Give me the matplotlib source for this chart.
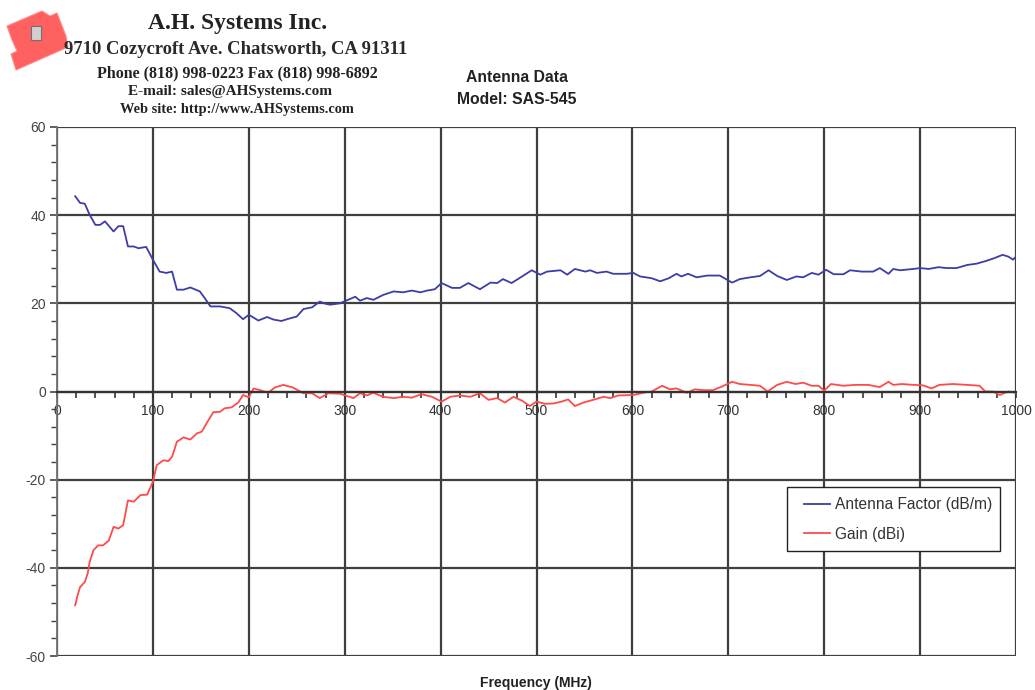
import numpy as np
import matplotlib
matplotlib.use('Agg')
from matplotlib import pyplot as plt
from matplotlib.patches import Polygon, Rectangle

# antenna factor (dB/m)
af_freq = [19, 24, 29, 34, 40, 45, 50, 59, 64, 69, 74, 80, 85, 93, 100, 107, 114, 120, 125, 132,
           139, 149, 154, 160, 165, 170, 180, 187, 194, 200, 210, 219, 226, 234, 243, 250, 257,
           266, 274, 280, 285, 295, 311, 316, 323, 330, 340, 351, 361, 370, 379, 386, 394, 401,
           412, 420, 429, 441, 452, 459, 465, 474, 485, 495, 504, 511, 525, 532, 540, 551, 556,
           563, 573, 580, 594, 601, 608, 620, 629, 638, 646, 651, 658, 667, 678, 691, 704, 712,
           723, 733, 742, 751, 761, 771, 778, 787, 794, 802, 810, 820, 827, 839, 851, 858, 867,
           872, 879, 893, 900, 909, 919, 928, 938, 949, 959, 970, 978, 986, 992, 997, 1000]
af_val = [44.3, 42.8, 42.6, 40.1, 37.8, 37.8, 38.6, 36.3, 37.5, 37.5, 32.9, 32.9, 32.5, 32.8,
          29.9, 27.2, 26.9, 27.2, 23.1, 23.1, 23.6, 22.7, 21.2, 19.3, 19.3, 19.3, 18.9, 17.8,
          16.4, 17.4, 16.1, 16.9, 16.3, 16.0, 16.6, 17.0, 18.7, 19.1, 20.4, 19.9, 19.7, 20.0,
          21.5, 20.6, 21.2, 20.8, 21.9, 22.7, 22.5, 22.9, 22.5, 22.9, 23.2, 24.6, 23.5, 23.5,
          24.6, 23.2, 24.7, 24.6, 25.5, 24.6, 26.1, 27.5, 26.5, 27.2, 27.5, 26.5, 27.8, 27.2,
          27.5, 26.9, 27.2, 26.7, 26.7, 26.9, 26.1, 25.7, 25.0, 25.7, 26.7, 26.1, 26.7, 25.9,
          26.3, 26.3, 24.7, 25.5, 25.9, 26.2, 27.5, 26.2, 25.3, 26.1, 25.9, 26.9, 26.5, 27.6,
          26.6, 26.6, 27.5, 27.2, 27.2, 28.0, 26.7, 27.8, 27.5, 27.8, 28.0, 27.8, 28.2, 28.0,
          28.0, 28.7, 29.0, 29.7, 30.3, 31.0, 30.6, 29.9, 30.6]

# gain (dBi)
g_freq = [19, 21, 24, 29, 32, 34, 38, 43, 48, 54, 59, 64, 69, 74, 80, 87, 94, 100, 104, 111,
          116, 120, 125, 132, 139, 146, 151, 156, 163, 170, 175, 182, 189, 194, 200, 205, 212,
          220, 227, 236, 246, 257, 266, 274, 283, 295, 309, 316, 323, 330, 340, 351, 361, 370,
          380, 391, 401, 410, 420, 431, 441, 450, 459, 467, 476, 485, 493, 500, 509, 518, 526,
          533, 540, 549, 559, 570, 577, 585, 601, 611, 620, 631, 639, 646, 657, 665, 674, 684,
          693, 704, 712, 723, 733, 741, 751, 761, 770, 778, 787, 794, 800, 807, 820, 832, 846,
          858, 867, 872, 881, 893, 903, 912, 920, 934, 949, 962, 968, 976, 983, 992, 1000]
g_val = [-48.5, -46.6, -44.4, -43.2, -41.3, -38.7, -36.0, -34.9, -34.9, -33.8, -30.7, -31.1,
         -30.3, -24.7, -25.0, -23.5, -23.4, -20.5, -16.7, -15.6, -15.8, -14.8, -11.4, -10.4,
         -10.9, -9.5, -9.1, -7.2, -4.7, -4.6, -3.8, -3.6, -2.5, -0.8, -1.3, 0.7, 0.3, -0.3,
         0.9, 1.5, 0.9, -0.4, -0.4, -1.5, -0.4, -0.5, -1.5, -0.4, -0.9, -0.3, -1.2, -1.5, -1.2,
         -1.4, -0.6, -1.2, -2.3, -1.2, -0.9, -1.2, -0.4, -1.9, -1.5, -2.5, -1.2, -2.1, -3.3,
         -2.3, -2.8, -2.7, -2.3, -1.8, -3.3, -2.5, -1.9, -1.2, -1.5, -0.9, -0.8, -0.3, 0.0,
         1.3, 0.5, 0.7, -0.3, 0.5, 0.3, 0.3, 1.1, 2.2, 1.7, 1.5, 1.3, 0.0, 1.5, 2.2, 1.7, 2.0,
         1.3, 1.3, 0.2, 1.7, 1.3, 1.5, 1.5, 1.0, 2.2, 1.5, 1.7, 1.5, 1.4, 0.7, 1.5, 1.7, 1.5,
         1.3, 0.0, 0.0, -0.8, 0.0, -0.3]

W, H = 1035, 690
plt.rcParams['font.family'] = ['Liberation Sans', 'DejaVu Sans']
plt.rcParams['axes.unicode_minus'] = False
fig = plt.figure(figsize=(W / 100, H / 100), dpi=100)

def fx(px):
    return px / W

def fy(py):
    return 1 - py / H

ax = fig.add_axes([fx(57), fy(656), fx(1016) - fx(57), fy(127) - fy(656)])
ax.plot(af_freq, af_val, color='#3d3da6', lw=1.3, label='Antenna Factor (dB/m)')
ax.plot(g_freq, g_val, color='#ff4a4a', lw=1.3, label='Gain (dBi)')

ax.set_xlim(0, 1000)
ax.set_ylim(-60, 60)
ax.set_xticks(np.arange(0, 1001, 100))
ax.set_xticks(np.arange(0, 1001, 20), minor=True)
ax.set_yticks(np.arange(-60, 61, 20))
ax.set_yticks(np.arange(-60, 61, 4), minor=True)

ax.set_axisbelow(True)
ax.grid(which='major', color='#3f3f3f', lw=1.6)
for t in ax.yaxis.get_major_ticks():
    if abs(t.get_loc()) == 60:
        t.gridline.set_color('#b0b0b0')
        t.gridline.set_linewidth(1.0)
for t in ax.xaxis.get_major_ticks():
    if t.get_loc() in (0, 1000):
        t.gridline.set_color('#a0a0a0')
        t.gridline.set_linewidth(1.2)

ax.spines['bottom'].set_position(('data', 0))
ax.spines['bottom'].set_color('#333333')
ax.spines['bottom'].set_linewidth(1.6)
ax.spines['left'].set_color('#707070')
ax.spines['left'].set_linewidth(1.3)
ax.spines['top'].set_visible(False)
ax.spines['right'].set_visible(False)

ax.tick_params(axis='x', which='both', direction='out', length=4, width=1.2,
               colors='#333333', labelsize=10, pad=5)
ax.tick_params(axis='y', which='major', direction='out', length=5, width=1.2,
               colors='#444444', labelsize=10, pad=3)
ax.tick_params(axis='y', which='minor', direction='out', length=4, width=1.0, colors='#444444')

# legend frame drawn separately so the entries can sit further in
ax.add_patch(Rectangle((fx(787), fy(551)), fx(1000) - fx(787), fy(487) - fy(551),
                       transform=fig.transFigure, facecolor='white', edgecolor='#222222',
                       lw=1.0, zorder=4, clip_on=False))
leg = ax.legend(loc='upper left', bbox_to_anchor=(fx(804), fy(497)),
                bbox_transform=fig.transFigure, fontsize=11.2, frameon=False,
                handlelength=1.7, handletextpad=0.3, labelspacing=0.95,
                borderpad=0, borderaxespad=0)
for t in leg.get_texts():
    t.set_color('#333333')

# header
fig.text(fx(238), fy(24), 'A.H. Systems Inc.', family='Liberation Serif', weight='bold',
         fontsize=17, ha='center', va='center', color='#222222')
fig.text(fx(236), fy(50), '9710 Cozycroft Ave. Chatsworth, CA 91311', family='Liberation Serif',
         weight='bold', fontsize=13.4, ha='center', va='center', color='#2a2a2a')
fig.text(fx(237), fy(73), 'Phone (818) 998-0223 Fax (818) 998-6892', family='Liberation Serif',
         weight='bold', fontsize=11.5, ha='center', va='center', color='#222222')
fig.text(fx(230), fy(92), 'E-mail: sales@AHSystems.com', family='Liberation Serif',
         weight='bold', fontsize=11, ha='center', va='center', color='#222222')
fig.text(fx(237), fy(109), 'Web site: http://www.AHSystems.com', family='Liberation Serif',
         weight='bold', fontsize=10.4, ha='center', va='center', color='#222222')

fig.text(fx(517), fy(77), 'Antenna Data', weight='bold', fontsize=11.3,
         ha='center', va='center', color='#222222')
fig.text(fx(517), fy(100), 'Model: SAS-545', weight='bold', fontsize=11.3,
         ha='center', va='center', color='#222222')
fig.text(fx(536), fy(683), 'Frequency (MHz)', weight='bold', fontsize=10,
         ha='center', va='center', color='#222222')

# logo
logo = [(7, 26), (42, 11), (50, 16), (57, 13), (66, 36), (68, 47), (16, 70), (11, 54),
        (17, 51), (12, 40)]
fig.patches.append(Polygon([(fx(a), fy(b)) for a, b in logo], closed=True,
                           transform=fig.transFigure, facecolor='#ff6060',
                           edgecolor='#ff8a8a', lw=0.8))
fig.patches.append(Rectangle((fx(31), fy(40)), fx(10), fy(26) - fy(40),
                             transform=fig.transFigure, facecolor='#d0d0d0',
                             edgecolor='#707070', lw=0.8))

fig.savefig('out.png', dpi=100)
